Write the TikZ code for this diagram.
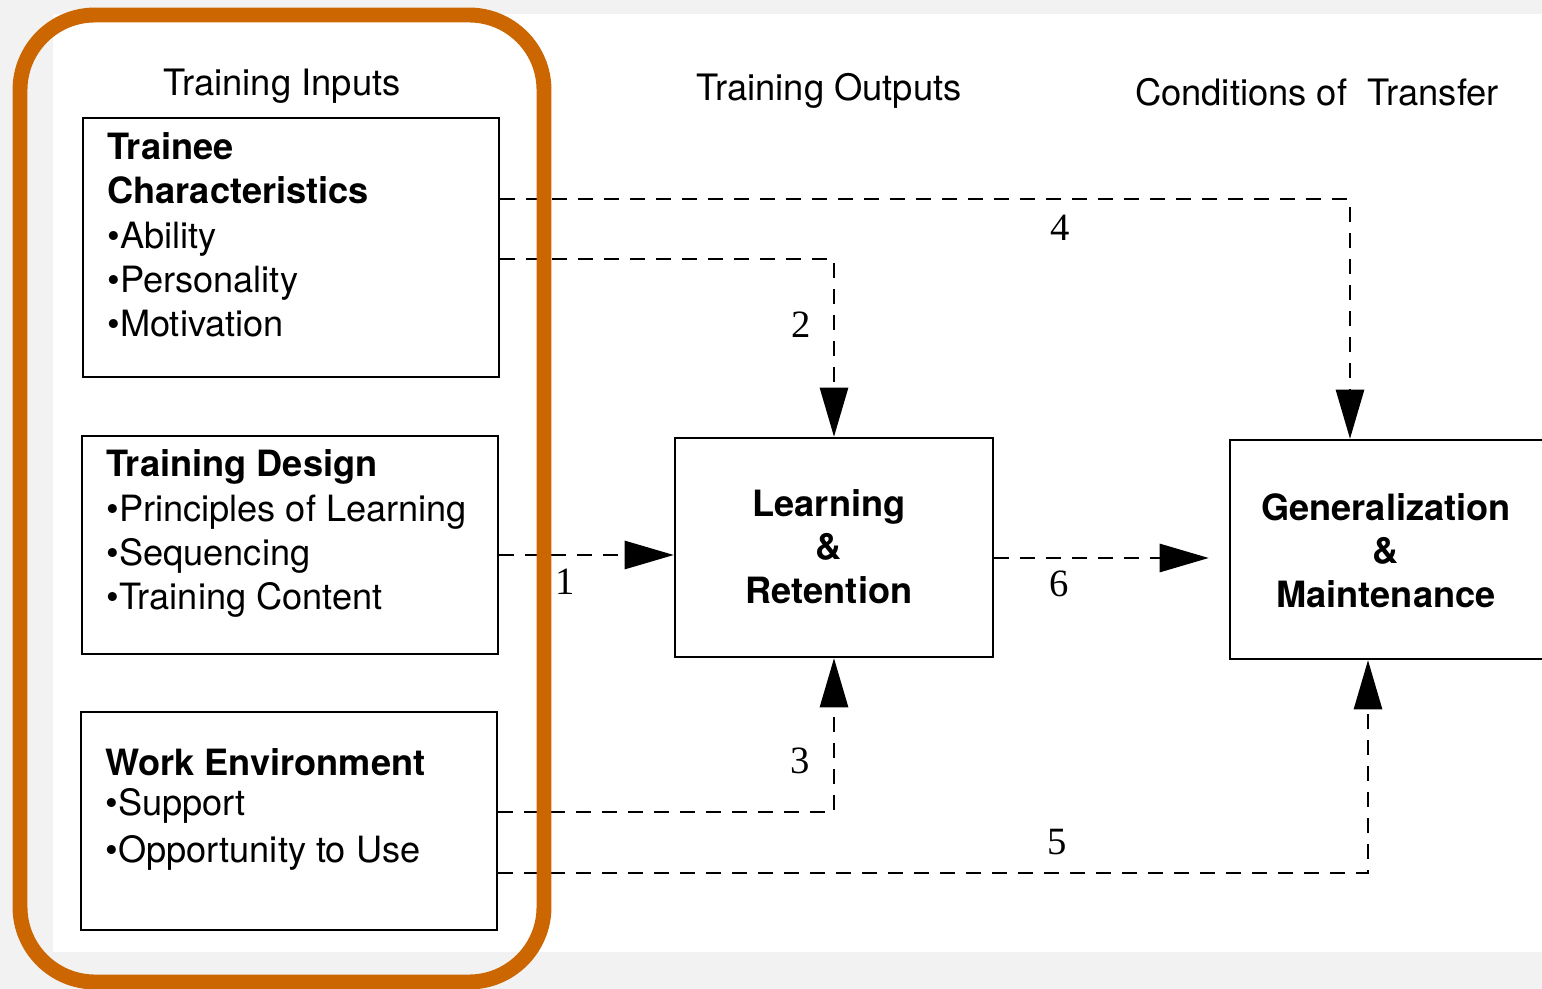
\documentclass[tikz,border=0pt]{standalone}
\usepackage{fontspec}
\setmainfont{TeX Gyre Heros}
\newfontfamily\numfont{Liberation Serif}
\usetikzlibrary{arrows.meta,positioning,calc}
\definecolor{frameorange}{HTML}{CC6600}
\definecolor{pagegray}{HTML}{F2F2F2}

\begin{document}
\begin{tikzpicture}[x=0.02cm,y=-0.02cm,
  box/.style={draw, line width=1.4pt, inner sep=0pt},
  head/.style={font=\fontsize{20.7pt}{24pt}\selectfont, inner sep=0pt, anchor=base},
  blocktext/.style={font=\fontsize{20.6pt}{25.3pt}\selectfont, align=left, inner sep=0pt, anchor=base west},
  outtext/.style={font=\fontsize{20.6pt}{24.7pt}\selectfont\bfseries, align=center, inner sep=0pt, anchor=base},
  flow/.style={line width=1.5pt, dash pattern=on 8.5pt off 6.3pt, -{Triangle[length=28pt,width=16pt]}},
  num/.style={font=\numfont\fontsize{22pt}{22pt}\selectfont, inner sep=0pt}]
% page and scan area
\fill[pagegray] (0,0) rectangle (1542,989);
\fill[white] (53,14) rectangle (1542,952);
\clip (0,0) rectangle (1542,989);

% column headings
\node[head] (inputs) at (282,96) {Training Inputs};
\node[head] (outputs) at (829,101) {Training Outputs};
\node[head] (conditions) at (1317,106) {Conditions of\ \ Transfer};

% input boxes (text nodes sit on their last baseline)
\node[box, minimum width=8.32cm, minimum height=5.18cm] (trainee) at (291,247.5) {};
\node[box, minimum width=8.32cm, minimum height=4.36cm] (design) at (290,545) {};
\node[box, minimum width=8.32cm, minimum height=4.36cm] (work) at (289,821) {};
\node[blocktext] (traineetext) at (107,337)
  {\textbf{Trainee}\\\textbf{Characteristics}\\•Ability\\•Personality\\•Motivation};
\node[blocktext] (designtext) at (106,610)
  {\textbf{Training Design}\\•Principles of Learning\\•Sequencing\\•Training Content};
\node[blocktext] (worktext) at (105,862)
  {\textbf{Work Environment}\\[-2.3pt]•Support\\[1.1pt]•Opportunity to Use};

% output boxes
\node[box, minimum width=6.36cm, minimum height=4.38cm] (lr) at (834,547.5) {};
\node[box, minimum width=6.4cm, minimum height=4.38cm] (gen) at (1390,549.5) {};
\node[outtext] (lrtext) at (829,603) {Learning\\\&\\Retention};
\node[outtext] (gentext) at (1386,607) {Generalization\\\&\\Maintenance};

% links
\draw[flow] (trainee.east |- 0,199) -| (1350,0 |- gen.north);
\draw[flow] (trainee.east |- 0,259) -| (lr.north);
\draw[flow] (design.east |- 0,555) -- (lr.west |- 0,555);
\draw[flow] (work.east |- 0,812) -| (lr.south);
\draw[flow] (work.east |- 0,873) -| (1368,0 |- gen.south);
\draw[flow, shorten >=0.4cm] (lr.east |- 0,558) -- (gen.west |- 0,558);
\node[num] (n1) at (565,582) {1};
\node[num] (n2) at (801,325) {2};
\node[num] (n3) at (800,761) {3};
\node[num] (n4) at (1060,228) {4};
\node[num] (n5) at (1057,842) {5};
\node[num] (n6) at (1059,584) {6};

% highlight frame
\draw[frameorange, line width=8.5pt, rounded corners=1.5cm] (20,15) rectangle (544,982);
\end{tikzpicture}
\end{document}
